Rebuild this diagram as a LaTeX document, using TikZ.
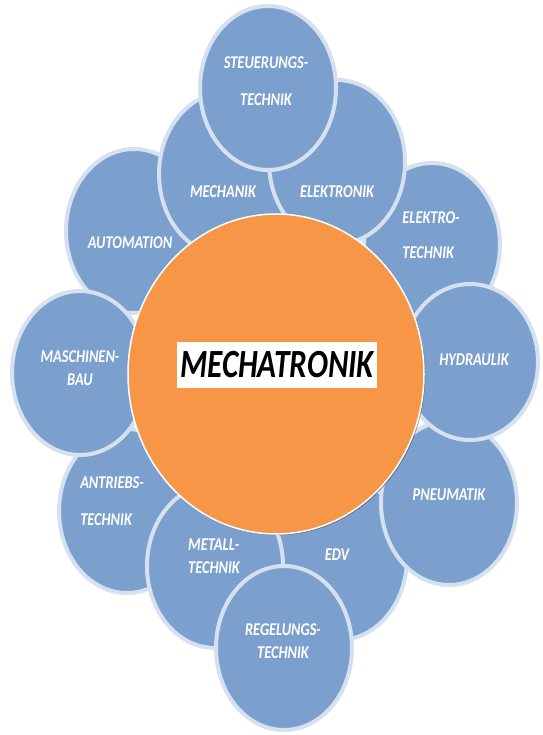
\documentclass[tikz,border=0pt]{standalone}
\usepackage{fontspec}
\setmainfont{Carlito}
\usepackage{tikz}
\usetikzlibrary{shapes.geometric, shadows}

\definecolor{bubblefill}{RGB}{123,160,206}
\definecolor{bubbleline}{RGB}{214,225,240}
\definecolor{kernorange}{RGB}{247,150,70}

\begin{document}
\begin{tikzpicture}[x=1pt, y=-1pt,
    bubble/.style={ellipse, draw=bubbleline, line width=4pt, fill=bubblefill,
                   minimum width=136pt, minimum height=164pt, inner sep=0pt},
    fach/.style={text=white, inner sep=0pt, xscale=.8, transform shape,
                 font=\fontsize{18}{21}\selectfont\bfseries\itshape}]

    \useasboundingbox (0,0) rectangle (542,735);

    \node[bubble]                      (automation) at (134,231) {};
    \node[bubble]                      (antrieb)    at (127,511) {};
    \node[bubble]                      (edv)        at (339,558) {};
    \node[bubble]                      (pneumatik)  at (449,503) {};
    \node[bubble]                      (elektro)    at (432,245) {};
    \node[bubble]                      (mechanik)   at (227,174) {};
    \node[bubble]                      (elektronik) at (337,162) {};
    \node[bubble]                      (steuerung)  at (268,88)  {};
    \node[bubble, minimum height=156pt] (hydraulik) at (470,362) {};
    \node[bubble]                      (maschinen)  at (80,373)  {};
    \node[bubble]                      (metall)     at (215,566) {};
    \node[bubble]                      (regelung)   at (284,648) {};

    \node[ellipse, fill=kernorange, draw=white, line width=1.5pt,
          drop shadow={shadow xshift=1.2pt, shadow yshift=-1.2pt, fill=black!70, opacity=.6},
          minimum width=296pt, minimum height=320pt] (mechatronik) at (276,374) {};
    \node[fill=white, xscale=.78, transform shape, minimum width=256pt, minimum height=46pt,
          font=\fontsize{40}{40}\selectfont\bfseries\itshape] (titel) at (277,365) {MECHATRONIK};

    \node[fach, align=center] (t steuerung)  at (266,81)  {STEUERUNGS-\\[16pt]TECHNIK};
    \node[fach]               (t mechanik)   at (223,192) {MECHANIK};
    \node[fach]               (t elektronik) at (337,192) {ELEKTRONIK};
    \node[fach]               (t automation) at (130,243) {AUTOMATION};
    \node[fach, align=left]   (t elektro)    at (431,235) {ELEKTRO-\\[14pt]TECHNIK};
    \node[fach, align=center] (t maschinen)  at (80,368)  {MASCHINEN-\\[2pt]BAU};
    \node[fach]               (t hydraulik)  at (474,360) {HYDRAULIK};
    \node[fach, align=left]   (t antrieb)    at (112,501) {ANTRIEBS-\\[16pt]TECHNIK};
    \node[fach]               (t pneumatik)  at (449,495) {PNEUMATIK};
    \node[fach, align=left]   (t metall)     at (214,556) {METALL-\\[2pt]TECHNIK};
    \node[fach]               (t edv)        at (337,555) {EDV};
    \node[fach, align=center] (t regelung)   at (283,641) {REGELUNGS-\\[2pt]TECHNIK};
\end{tikzpicture}
\end{document}
